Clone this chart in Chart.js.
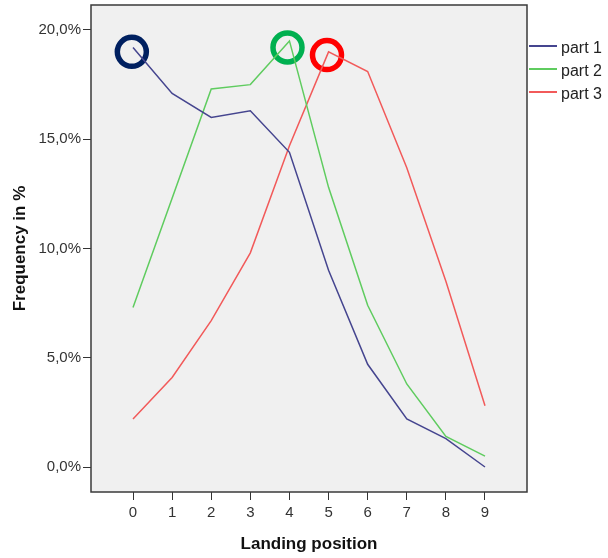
<!DOCTYPE html>
<html>
<head>
<meta charset="utf-8">
<script src="https://cdn.jsdelivr.net/npm/chart.js@4"></script>
<style>
html, body { margin: 0; padding: 0; background: #fff; }
</style>
</head>
<body>
<canvas id="freqChart" width="608" height="558"></canvas>
<script>
'use strict';
// values
const positions = [0, 1, 2, 3, 4, 5, 6, 7, 8, 9];
const part1 = [19.2, 17.1, 16.0, 16.3, 14.4, 9.0, 4.7, 2.2, 1.3, 0.0];
const part2 = [7.3, 12.3, 17.3, 17.5, 19.5, 12.8, 7.4, 3.8, 1.4, 0.5];
const part3 = [2.2, 4.1, 6.7, 9.8, 14.7, 19.0, 18.1, 13.7, 8.5, 2.8];
const seriesNames = ['part 1', 'part 2', 'part 3'];
const yTicks = [0, 5, 10, 15, 20];
// hand drawn circles on the picture
const circleX = [-0.03, 3.95, 4.96];
const circleY = [19.0, 19.2, 18.85];

const FONT = "'Liberation Sans', Arial, sans-serif";
const lineColors = ['#45458f', '#5fcc5f', '#f25a5a'];
const circleColors = ['#002060', '#00b050', '#ff0000'];

function toPoints(xs, ys) {
    return xs.map(function (x, i) { return {x: x, y: ys[i]}; });
}

const plotFrame = {
    id: 'plotFrame',
    beforeDraw(chart) {
        const a = chart.chartArea;
        const ctx = chart.ctx;
        ctx.save();
        ctx.fillStyle = '#f0f0f0';
        ctx.fillRect(a.left, a.top, a.right - a.left, a.bottom - a.top);
        ctx.restore();
    },
    afterDraw(chart) {
        const a = chart.chartArea;
        const ctx = chart.ctx;
        ctx.save();
        ctx.strokeStyle = '#3a3a3a';
        ctx.lineWidth = 1.5;
        ctx.strokeRect(a.left, a.top, a.right - a.left, a.bottom - a.top);

        // legend
        ctx.font = '16px ' + FONT;
        ctx.textBaseline = 'middle';
        ctx.fillStyle = '#222';
        let y = 46;
        chart.data.datasets.forEach(function (ds) {
            if (seriesNames.indexOf(ds.label) < 0) return;
            ctx.strokeStyle = ds.borderColor;
            ctx.lineWidth = 2;
            ctx.beginPath();
            ctx.moveTo(a.right + 2, y);
            ctx.lineTo(a.right + 30, y);
            ctx.stroke();
            ctx.fillText(ds.label, a.right + 34, y + 3);
            y += 23;
        });
        ctx.restore();
    }
};

const lineSets = [part1, part2, part3].map(function (vals, i) {
    return {
        label: seriesNames[i],
        data: toPoints(positions, vals),
        borderColor: lineColors[i],
        borderWidth: 1.5,
        pointRadius: 0,
        tension: 0,
        fill: false
    };
});

new Chart('freqChart', {
    type: 'line',
    data: {
        datasets: lineSets.concat([{
            label: 'circles',
            data: toPoints(circleX, circleY),
            showLine: false,
            pointRadius: 14.5,
            pointBorderWidth: 5.5,
            pointBackgroundColor: 'rgba(0,0,0,0)',
            pointBorderColor: circleColors,
            borderColor: circleColors[0]
        }])
    },
    options: {
        responsive: false,
        animation: false,
        devicePixelRatio: 1,
        layout: {autoPadding: false, padding: {top: 5, right: 81, left: 0, bottom: 0}},
        plugins: {legend: {display: false}, tooltip: {enabled: false}},
        scales: {
            x: {
                type: 'linear',
                min: -1.074,
                max: 10.074,
                afterBuildTicks: function (scale) {
                    scale.ticks = positions.map(function (v) { return {value: v}; });
                },
                afterFit: function (scale) {
                    scale.height = 66;
                    scale.paddingLeft = 0;
                    scale.paddingRight = 0;
                },
                ticks: {
                    autoSkip: false, maxRotation: 0, padding: 4,
                    color: '#333', font: {family: FONT, size: 15},
                    callback: function (v) { return String(v); }
                },
                grid: {drawOnChartArea: false, tickLength: 8, color: '#333'},
                border: {display: false},
                title: {
                    display: true, text: 'Landing position', color: '#111',
                    font: {family: FONT, size: 17, weight: 'bold'},
                    padding: {top: 0, bottom: 3}
                }
            },
            y: {
                min: -1.144,
                max: 21.144,
                afterBuildTicks: function (scale) {
                    scale.ticks = yTicks.map(function (v) { return {value: v}; });
                },
                afterFit: function (scale) {
                    scale.width = 91;
                    scale.paddingTop = 0;
                    scale.paddingBottom = 0;
                },
                ticks: {
                    padding: 2, color: '#333', font: {family: FONT, size: 15},
                    callback: function (v) { return v.toFixed(1).replace('.', ',') + '%'; }
                },
                grid: {drawOnChartArea: false, tickLength: 8, color: '#333'},
                border: {display: false},
                title: {
                    display: true, text: 'Frequency in %', color: '#111',
                    font: {family: FONT, size: 17, weight: 'bold'},
                    padding: {top: 10, bottom: 0}
                }
            }
        }
    },
    plugins: [plotFrame]
});
</script>
</body>
</html>
